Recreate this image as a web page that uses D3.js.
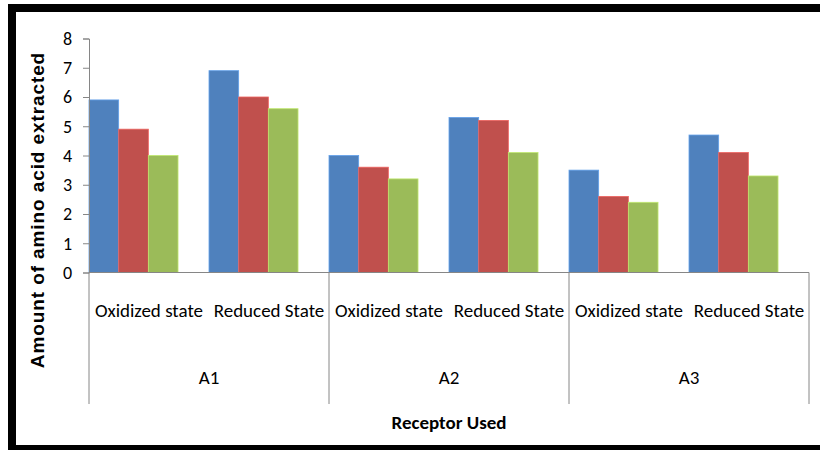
<!DOCTYPE html>
<html>
<head>
<meta charset="utf-8">
<script src="https://cdn.jsdelivr.net/npm/d3@7"></script>
<style>
  html, body { margin: 0; padding: 0; background: #fff; }
  svg { display: block; }
  text { font-family: Carlito, Calibri, "Liberation Sans", Arial, sans-serif; fill: #000; }
</style>
</head>
<body>
<svg id="chart" width="820" height="450"></svg>
<script>
// Receptor groups, state sub-categories and three measured series
const receptors = ["A1", "A2", "A3"];
const states = ["Oxidized state", "Reduced State"];
const seriesNames = ["Series 1", "Series 2", "Series 3"];
const seriesColors = ["#4F81BD", "#C0504D", "#9BBB59"];

// values per series, ordered A1-Ox, A1-Red, A2-Ox, A2-Red, A3-Ox, A3-Red
const series1 = [5.9, 6.9, 4.0, 5.3, 3.5, 4.7];
const series2 = [4.9, 6.0, 3.6, 5.2, 2.6, 4.1];
const series3 = [4.0, 5.6, 3.2, 4.1, 2.4, 3.3];

const yTicks = [0, 1, 2, 3, 4, 5, 6, 7, 8];

const yTitle = "Amount of amino acid extracted";
const xTitle = "Receptor Used";

const allSeries = [series1, series2, series3];
const rows = [];
receptors.forEach((r, gi) => {
  states.forEach((s, si) => {
    const idx = gi * states.length + si;
    seriesNames.forEach((name, k) => {
      rows.push({ receptor: r, state: s, series: name, color: seriesColors[k], value: allSeries[k][idx] });
    });
  });
});

const svg = d3.select("#chart");

// frame
svg.append("rect").attr("x", 8).attr("y", 4).attr("width", 812).attr("height", 8).attr("fill", "#000");
svg.append("rect").attr("x", 8).attr("y", 4).attr("width", 8).attr("height", 446).attr("fill", "#000");
svg.append("rect").attr("x", 8).attr("y", 445).attr("width", 812).attr("height", 5).attr("fill", "#000");

const plot = { left: 89, right: 809, top: 38.5, bottom: 272.5, catBottom: 404 };
const axisColor = "#868686";

const y = d3.scaleLinear().domain([0, 8]).range([plot.bottom, plot.top]);
const xGroup = d3.scaleBand().domain(receptors).range([plot.left, plot.right]);
const xState = d3.scaleBand().domain(states).range([0, xGroup.bandwidth()]);
const xSeries = d3.scaleBand().domain(seriesNames)
  .range([0, xState.bandwidth()])
  .paddingInner(0).paddingOuter(0.522).align(0);

// bars
svg.append("g").selectAll("rect").data(rows).join("rect")
  .attr("x", d => xGroup(d.receptor) + xState(d.state) + xSeries(d.series))
  .attr("y", d => y(d.value))
  .attr("width", xSeries.bandwidth())
  .attr("height", d => y(0) - y(d.value))
  .attr("fill", d => d.color)
  .attr("stroke", d => d3.color(d.color).brighter(0.6))
  .attr("stroke-width", 0.8);

// value axis
const yAxis = svg.append("g")
  .attr("transform", `translate(${plot.left},0)`)
  .call(d3.axisLeft(y).tickValues(yTicks).tickSize(6).tickPadding(11).tickFormat(d3.format("d")));
yAxis.select(".domain").attr("stroke", axisColor);
yAxis.selectAll(".tick line").attr("stroke", axisColor);
yAxis.selectAll(".tick text")
  .style("font-size", "18px")
  .attr("fill", "#000");

// category axis line
svg.append("line")
  .attr("x1", plot.left).attr("x2", plot.right)
  .attr("y1", y(0)).attr("y2", y(0))
  .attr("stroke", axisColor);

// group separators
const edges = receptors.map(r => xGroup(r)).concat([plot.right]);
svg.append("g").selectAll("line").data(edges).join("line")
  .attr("x1", d => d).attr("x2", d => d)
  .attr("y1", y(0)).attr("y2", plot.catBottom)
  .attr("stroke", axisColor);

// state labels
const stateLabels = [];
receptors.forEach(r => states.forEach(s => stateLabels.push({ r, s })));
svg.append("g").selectAll("text").data(stateLabels).join("text")
  .attr("x", d => xGroup(d.r) + xState(d.s) + xState.bandwidth() / 2)
  .attr("y", 316.5)
  .attr("text-anchor", "middle")
  .style("font-size", "19px")
  .text(d => d.s);

// receptor labels
svg.append("g").selectAll("text").data(receptors).join("text")
  .attr("x", d => xGroup(d) + xGroup.bandwidth() / 2)
  .attr("y", 383.5)
  .attr("text-anchor", "middle")
  .style("font-size", "19px")
  .text(d => d);

// axis titles
svg.append("text")
  .attr("x", (plot.left + plot.right) / 2)
  .attr("y", 429)
  .attr("text-anchor", "middle")
  .style("font-size", "19px")
  .style("font-weight", "bold")
  .text(xTitle);

svg.append("text")
  .attr("transform", `translate(44,210) rotate(-90)`)
  .attr("text-anchor", "middle")
  .style("font-family", "'Liberation Sans', Arial, sans-serif")
  .style("font-size", "19px")
  .style("letter-spacing", "0.9px")
  .style("font-weight", "bold")
  .text(yTitle);
</script>
</body>
</html>
